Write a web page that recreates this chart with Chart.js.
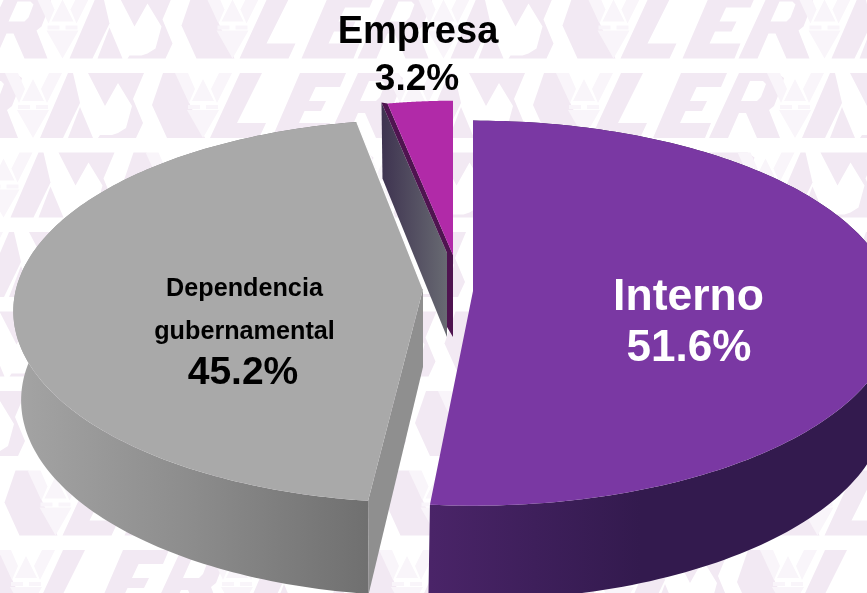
<!DOCTYPE html>
<html><head><meta charset="utf-8">
<style>html,body{margin:0;padding:0;background:#fff}canvas{display:block}</style>
<script src="https://cdn.jsdelivr.net/npm/chart.js@4"></script>
</head><body><canvas id="c" width="867" height="593"></canvas>
<script>
const categories = ['Interno', 'Dependencia gubernamental', 'Empresa'];
const shares = [51.6, 45.2, 3.2];
const topColors = ['#7a38a3', '#a9a9a9', '#b12aa8'];

/* drawing styles of the perspective pie, one per slice */
const perspective = 0.115, perspectiveBottom = 0.17;
const sliceStyle = [
  {cx:473, cy:291, R:420, S:190, bcx:473, bcy:371, bR:408, bS:190, turn:0, trim:0.55},
  {cx:423, cy:289, R:407, S:189, bcx:426, bcy:367, bR:399, bS:190, turn:1.1, trim:0},
  {cx:453, cy:255, R:365, S:172, bcx:453, bcy:337, bR:365, bS:172, turn:0, trim:0}
];

function proj(cx, cy, R, S, a, p){
  const u = Math.sin(a), v = -Math.cos(a), w = 1 - p * v;
  return [cx + R * u / w, cy + S * v / w];
}
const topPt = (s, a) => proj(s.cx, s.cy, s.R, s.S, a, perspective);
const botPt = (s, a) => proj(s.bcx, s.bcy, s.bR, s.bS, a, perspectiveBottom);
function poly(ctx, pts, fill){
  ctx.beginPath();
  pts.forEach((p, i) => i ? ctx.lineTo(p[0], p[1]) : ctx.moveTo(p[0], p[1]));
  ctx.closePath();
  if (fill){ ctx.fillStyle = fill; ctx.fill(); }
}
function arcPts(fn, s, a0, a1){
  const pts = [], n = 160;
  for (let i = 0; i <= n; i++) pts.push(fn(s, a0 + (a1 - a0) * i / n));
  return pts;
}
function grad(ctx, x0, x1, stops){
  const g = ctx.createLinearGradient(x0, 0, x1, 0);
  stops.forEach(st => g.addColorStop(st[0], st[1]));
  return g;
}

/* background watermark: one row unit, x from row start, y 0-65 */
const wmDark = '#f2e9f3', wmPale = '#f9f5fa';
const wmShapes = [
  [[40,65],[63,65],[80,30],[73,0],[68,0]],
  [[68,65],[93,65],[80,34]],
  [[163,0],[176,0],[205,65],[167,65],[152,32]],
  [[210,65],[240,0],[262,0],[237,50],[266,50],[259,65]],
  [[300,0],[346,0],[340,14],[315.6,14],[309,28],[326,28],[321,38],[304.5,38],[299,50],[330,50],[324,65],[272,65]],
  [[88,0],[144,0],[133,26],[143,50],[136,65],[98,65],[100,62],[112,62],[118,60],[126,55],[132,33],[118,10],[105,33]]
];
const wmR = {outer:[[358,0],[396,0],[403,5],[400,15],[393,33],[388,37],[399,65],[376,65],[365,40],[358,40],[347,65],[328,65]], hole:[[369,8],[382,8],[385,11],[380,24],[376,28],[360,28]]};
const wmPalePieces = [
  [[-28,0],[-15,0],[-8,16],[-14,30]],
  [[29,0],[16,0],[8,16],[14,30]],
  [[0,6],[11,28],[-11,28]],
  [[-16,37],[16,37],[0,65]],
  [[-15,32],[-3,32],[-3,36],[-15,36]],
  [[15,32],[3,32],[3,36],[15,36]]
];
function drawWatermark(ctx){
  for (let r = -1; r < 9; r++){
    const y0 = 73 + (r - 1) * 79.5;
    let x0 = -(r - 1) * 29.5;
    while (x0 > -381) x0 -= 381;
    for (let x = x0 - 381; x < 900; x += 381){
      ctx.save();
      ctx.translate(x, y0);
      wmShapes.forEach(sh => poly(ctx, sh, wmDark));
      ctx.beginPath();
      [wmR.outer, wmR.hole].forEach(pts => {
        pts.forEach((p, i) => i ? ctx.lineTo(p[0], p[1]) : ctx.moveTo(p[0], p[1]));
        ctx.closePath();
      });
      ctx.fillStyle = wmDark;
      ctx.fill('evenodd');
      [33, 203].forEach(c => {
        ctx.save();
        ctx.translate(c, 0);
        wmPalePieces.forEach(sh => poly(ctx, sh, wmPale));
        ctx.restore();
      });
      ctx.restore();
    }
  }
}

const pie3d = {
  id: 'pie3d',
  beforeDatasetsDraw(chart){
    const ctx = chart.ctx, arcs = chart.getDatasetMeta(0).data;
    const ang = i => {
      const st = sliceStyle[i], t = st.turn * Math.PI / 180;
      return [arcs[i].startAngle + Math.PI / 2 + t, arcs[i].endAngle + Math.PI / 2 + t - st.trim * Math.PI / 180];
    };
    ctx.save();
    drawWatermark(ctx);

    /* Empresa: detached slice */
    {
      const s = sliceStyle[2], [a0, a1] = ang(2);
      const A = [s.cx, s.cy], B = topPt(s, a0);
      poly(ctx, [[B[0]-6,B[1]-1],[A[0]-6,A[1]-2],[A[0]-6,A[1]+82],[B[0]-5,B[1]+75]],
        grad(ctx, B[0]-6, A[0]-6, [[0,'#3e3350'],[1,'#686a72']]));
      poly(ctx, [B,A,[A[0],A[1]+82],[A[0]-6,A[1]+72],[A[0]-6,A[1]-2],[B[0]-6,B[1]-1]], '#4f1450');
      poly(ctx, [A].concat(arcPts(topPt, s, a0, a1)), arcs[2].options.backgroundColor);
    }

    /* Dependencia gubernamental */
    {
      const s = sliceStyle[1], [a0, a1] = ang(1);
      poly(ctx, arcPts(topPt, s, a0, a1).concat(arcPts(botPt, s, a1, a0)),
        grad(ctx, 15, 372, [[0,'#a4a4a4'],[0.5,'#8c8c8c'],[1,'#6f6f6f']]));
      const T = topPt(s, a0), Bt = botPt(s, a0);
      poly(ctx, [[s.cx,s.cy],T,Bt,[s.cx,s.bcy]], '#8f8f8f');
      poly(ctx, [[s.cx,s.cy]].concat(arcPts(topPt, s, a0, a1)), arcs[1].options.backgroundColor);
      ctx.strokeStyle = '#fff'; ctx.lineWidth = 1.2;
      const E = topPt(s, a1);
      ctx.beginPath(); ctx.moveTo(E[0], E[1]); ctx.lineTo(s.cx, s.cy); ctx.stroke();
    }

    /* Interno */
    {
      const s = sliceStyle[0], [a0, a1] = ang(0);
      poly(ctx, arcPts(topPt, s, a0, a1).concat(arcPts(botPt, s, a1, a0)),
        grad(ctx, 430, 640, [[0,'#4a2468'],[0.5,'#3e1f5b'],[1,'#331a4e']]));
      poly(ctx, [[s.cx,s.cy]].concat(arcPts(topPt, s, a0, a1)), arcs[0].options.backgroundColor);
    }

    /* labels */
    const txt = (t, x, y, size, col) => {
      ctx.font = 'bold ' + size + 'px "Liberation Sans", Arial, sans-serif';
      ctx.fillStyle = col; ctx.textAlign = 'center'; ctx.textBaseline = 'alphabetic';
      ctx.fillText(t, x, y);
    };
    const pct = i => shares[i].toFixed(1) + '%';
    txt(categories[2], 418, 43, 38, '#000');
    txt(pct(2), 417, 90, 37, '#000');
    txt(categories[0], 688.5, 310, 44.5, '#fff');
    txt(pct(0), 689, 361, 44, '#fff');
    const dep = categories[1].split(' ');
    txt(dep[0], 244.5, 296, 25.2, '#000');
    txt(dep[1], 244.5, 339, 25.2, '#000');
    txt(pct(1), 243, 384, 39, '#000');
    ctx.restore();
    return false;
  }
};

new Chart(document.getElementById('c'), {
  type: 'pie',
  data: { labels: categories, datasets: [{ data: shares, backgroundColor: topColors, borderWidth: 0 }] },
  options: {
    responsive: false,
    animation: false,
    rotation: 0,
    plugins: { legend: { display: false }, tooltip: { enabled: false } }
  },
  plugins: [pie3d]
});
</script></body></html>
